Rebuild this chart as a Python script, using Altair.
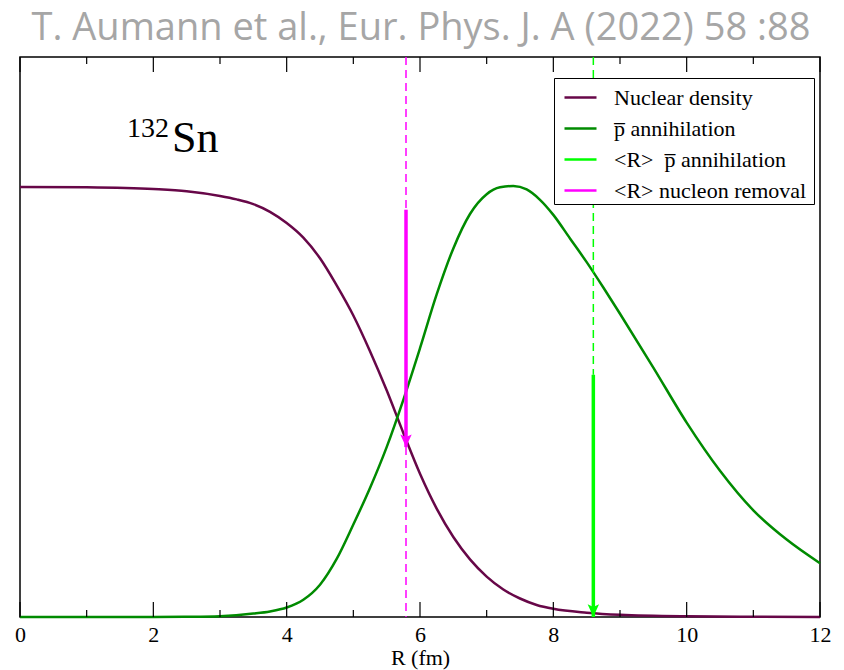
import altair as alt
import pandas as pd

# ---- data ----
density_r = [0, 1, 2, 2.5, 3, 3.25, 3.5, 3.75, 4, 4.25, 4.5, 4.75, 5, 5.25, 5.5, 5.75,
             6, 6.25, 6.5, 6.75, 7, 7.25, 7.5, 7.75, 8, 8.5, 9, 10, 11, 12]
density_v = [1.0, 0.999, 0.995, 0.990, 0.979, 0.971, 0.960, 0.942, 0.916, 0.882,
             0.834, 0.771, 0.701, 0.618, 0.527, 0.428, 0.333, 0.252, 0.186, 0.134,
             0.094, 0.064, 0.043, 0.028, 0.019, 0.010, 0.005, 0.0015, 0.0005, 0.0]

annih_r = [0, 2, 2.5, 3, 3.5, 3.75, 4, 4.25, 4.5, 4.75, 5, 5.25, 5.5, 5.75, 6, 6.25,
           6.5, 6.75, 7, 7.2, 7.4, 7.6, 7.8, 8, 8.25, 8.5, 8.75, 9, 9.5, 10, 10.5,
           11, 11.5, 12]
annih_v = [0.0, 0.0, 0.0005, 0.002, 0.008, 0.013, 0.022, 0.040, 0.075, 0.135, 0.215,
           0.300, 0.395, 0.505, 0.625, 0.750, 0.857, 0.937, 0.983, 0.999, 1.002,
           0.994, 0.970, 0.935, 0.880, 0.825, 0.766, 0.705, 0.580, 0.452, 0.340,
           0.248, 0.180, 0.125]

series_labels = ["Nuclear density", "\u00a0p\u0305 annihilation",
                 "<R>\u00a0\u00a0p\u0305 annihilation", "<R> nucleon removal"]
series_colors = ["#670748", "#008b00", "#00ff00", "#ff00ff"]

r_mean_removal = 5.79
r_mean_annih = 8.60
removal_arrow = [0.947, 0.395]   # start, tip
annih_arrow = [0.563, 0.0]       # start, tip
y_top = 1.302

major_ticks = [0, 2, 4, 6, 8, 10, 12]
minor_ticks = [1, 3, 5, 7, 9, 11]

title_text = "T. Aumann et al., Eur. Phys. J. A (2022) 58 :88"

# ---- tables ----
curves = pd.DataFrame({
    "r": density_r + annih_r,
    "v": density_v + annih_v,
    "series": [series_labels[0]] * len(density_r) + [series_labels[1]] * len(annih_r),
})

xs = alt.Scale(domain=[0, 12], nice=False)
ys = alt.Scale(domain=[0, y_top], nice=False, zero=False)

lines = alt.Chart(curves).mark_line(strokeWidth=2.5, interpolate="monotone").encode(
    x=alt.X("r:Q", scale=xs, title="R (fm)",
            axis=alt.Axis(values=major_ticks, format="d", labelFlush=False,
                          labelPadding=7, titlePadding=2, domain=False,
                          ticks=False, grid=False)),
    y=alt.Y("v:Q", scale=ys, axis=None),
    color=alt.Color("series:N",
                    scale=alt.Scale(domain=series_labels, range=series_colors),
                    legend=alt.Legend(title=".", titleOrient="right", titleColor="white",
                                      titleFontSize=6, titlePadding=4,
                                      orient="none", legendX=534, legendY=21,
                                      symbolType="stroke", symbolSize=1024,
                                      symbolStrokeWidth=2.5, symbolOffset=7,
                                      labelFont="Liberation Serif",
                                      labelFontSize=22, labelOffset=16, labelLimit=400,
                                      rowPadding=2, padding=2, fillColor="white",
                                      strokeColor="black")),
)


def vline(r, y1, y2, color, width, dash=None):
    df = pd.DataFrame({"r": [r], "y1": [y1], "y2": [y2]})
    kw = dict(color=color, strokeWidth=width)
    if dash:
        kw["strokeDash"] = dash
    return alt.Chart(df).mark_rule(**kw).encode(
        x=alt.X("r:Q", scale=xs), y=alt.Y("y1:Q", scale=ys), y2="y2:Q")


def head(r, tip, color):
    df = pd.DataFrame({"r": [r], "y": [tip]})
    return alt.Chart(df).mark_point(
        shape="M0,0L-0.9,-2L0,-1.6L0.9,-2Z", size=160, filled=True, opacity=1,
        color=color, strokeWidth=0
    ).encode(x=alt.X("r:Q", scale=xs), y=alt.Y("y:Q", scale=ys))


arrows = [
    vline(r_mean_removal, y_top, 0.0, "#ff00ff", 1.5, [8, 5]),
    vline(r_mean_annih, y_top, annih_arrow[0], "#00ff00", 1.5, [8, 5]),
    vline(r_mean_removal, removal_arrow[0], removal_arrow[1], "#ff00ff", 3.5),
    vline(r_mean_annih, annih_arrow[0], annih_arrow[1], "#00ff00", 3.5),
    head(r_mean_removal, removal_arrow[1], "#ff00ff"),
    head(r_mean_annih, annih_arrow[1], "#00ff00"),
]

major_df = pd.DataFrame({"t": major_ticks})
minor_df = pd.DataFrame({"t": minor_ticks})


def tick_layer(df, length, top):
    if top:
        yy, yy2 = 0, length
    else:
        yy, yy2 = 560, 560 - length
    return alt.Chart(df).mark_rule(color="black", strokeWidth=1.2).encode(
        x=alt.X("t:Q", scale=xs), y=alt.value(yy), y2=alt.value(yy2))


ticks = [tick_layer(major_df, 15, False), tick_layer(minor_df, 7, False),
         tick_layer(major_df, 15, True), tick_layer(minor_df, 7, True)]

one = pd.DataFrame({"a": [0]})
mass = alt.Chart(one).mark_text(text="132", font="Liberation Serif", fontSize=28,
                                align="left", baseline="alphabetic", color="black").encode(
    x=alt.value(107), y=alt.value(80))
elem = alt.Chart(one).mark_text(text="Sn", font="Liberation Serif", fontSize=44,
                                align="left", baseline="alphabetic", color="black").encode(
    x=alt.value(152), y=alt.value(95))
heading = alt.Chart(one).mark_text(text=title_text, font="Open Sans",
                                   fontSize=38, align="center", baseline="alphabetic",
                                   color="#a6a6a6").encode(
    x=alt.value(401), y=alt.value(-17))

chart = alt.layer(lines, *arrows, *ticks, mass, elem, heading).properties(
    width=800, height=560,
    autosize=alt.AutoSizeParams(type="none"),
    padding={"left": 20, "top": 57, "right": 24, "bottom": 53},
    background="white",
).configure_view(stroke="black", strokeWidth=1.5).configure_axis(
    labelFont="Liberation Serif", labelFontSize=22, labelColor="black",
    titleFont="Liberation Serif", titleFontSize=22, titleFontWeight="normal",
    titleColor="black",
)

chart.save("out.html", embed_options={"renderer": "svg", "actions": False})
